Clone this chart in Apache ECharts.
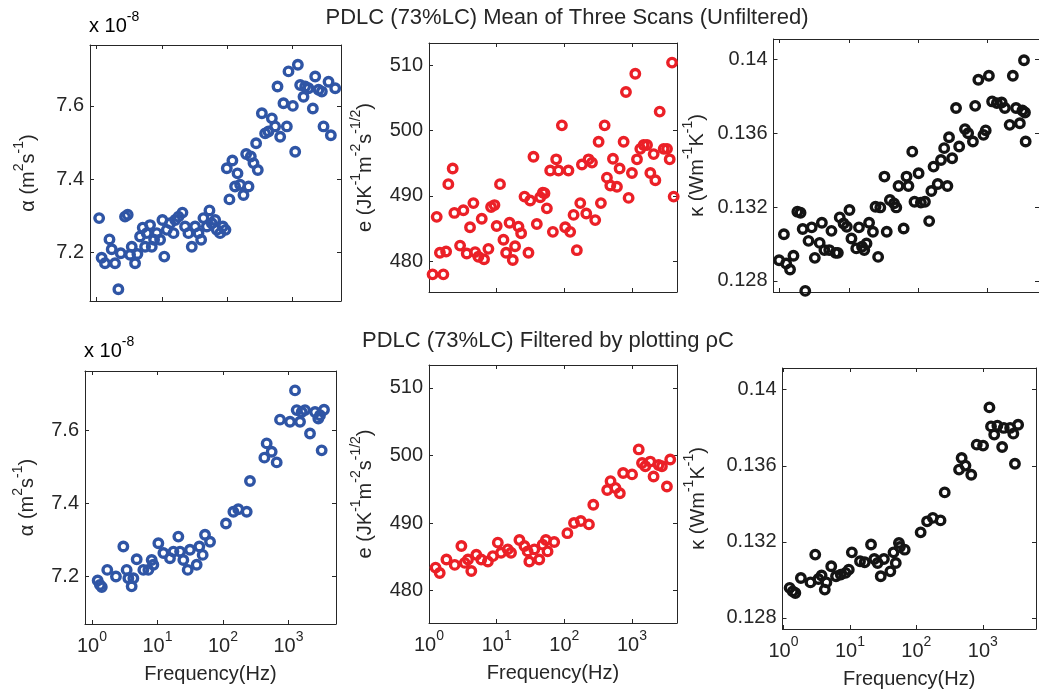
<!DOCTYPE html>
<html>
<head>
<meta charset="utf-8">
<script src="https://cdn.jsdelivr.net/npm/echarts@6/dist/echarts.min.js"></script>
<style>
  html, body { margin: 0; background: #fff; }
  #chart { width: 1039px; height: 696px; }
</style>
</head>
<body>
<div id="chart"></div>
<script>
// ---- unfiltered (mean of three scans) ----
const freqAlphaRaw = [1.09,1.19,1.34,1.57,1.70,1.91,2.15,2.34,2.72,2.99, 3.25,3.45,3.88,4.21,4.63,5.09,5.53,5.86,6.59,7.0, 7.6,8.35,9.4,10.2,10.9,11.9,13.4,15.1,16.0,18.0, 20.7,22.7,25.6,28.8,32.4,36.5,40.1,43.5,49.0,53.8, 58.4,65.8,69.7,78.5,86.2,94.7,99.3,109,121,133, 145,159,179,197,214,232,255,280,297,343, 385,433,488,548,596,655,736,829,879,1025, 1114,1224,1328,1495,1585,1784,2079,2259,2541,2858, 3033,3620,3928,4582];
const alphaRaw = [7.294,7.186,7.171,7.236,7.209,7.171,7.100,7.198,7.298,7.303, 7.194,7.216,7.171,7.196,7.244,7.268,7.216,7.253,7.275,7.216, 7.235,7.253,7.235,7.289,7.189,7.262,7.280,7.253,7.289,7.298, 7.309,7.271,7.253,7.216,7.271,7.253,7.235,7.294,7.271,7.315, 7.280,7.289,7.262,7.253,7.271,7.262,7.430,7.345,7.451,7.380, 7.416,7.385,7.357,7.469,7.380,7.462,7.444,7.498,7.425,7.580, 7.525,7.530,7.566,7.544,7.653,7.516,7.607,7.544,7.694,7.600, 7.475,7.712,7.657,7.625,7.653,7.648,7.593,7.680,7.644,7.639, 7.544,7.666,7.520,7.648];

const freqEffRaw = [1.13,1.30,1.45,1.63,1.79,1.93,2.24,2.37,2.88,3.22, 3.61,4.04,4.53,4.80,5.37,6.02,6.51,7.55,8.27,9.27, 10.0,11.2,12.6,13.8,15.5,17.3,18.7,21.0,23.0,25.8, 29.5,31.3,35.0,39.2,44.0,48.1,50.9,55.2,61.8,67.7, 75.8,82.1,92.0,103,115,122,137,153,172,182, 211,228,256,286,321,347,394,426,478,523, 599,656,752,814,891,998,1119,1185,1327,1486, 1667,1866,2090,2213,2566,2939,3291,3606,3906,4131];
const effRaw = [478.0,486.8,481.3,478.0,481.5,491.8,494.2,487.4,482.4,487.8, 481.2,485.2,488.9,481.4,480.7,486.5,480.3,481.9,488.3,488.6, 485.4,491.8,483.3,481.3,485.9,480.2,482.3,485.3,484.3,489.9, 481.3,489.3,496.0,485.7,489.8,490.5,490.4,488.1,493.9,484.5, 495.6,493.9,500.8,485.2,493.9,484.5,487.1,481.7,488.9,494.8, 487.3,495.6,495.1,486.3,498.3,488.9,500.8,492.8,491.6,495.7, 491.4,494.2,498.3,505.9,489.7,493.5,508.7,495.6,497.2,497.8, 497.8,493.5,496.4,492.4,502.9,497.2,497.2,495.6,510.4,489.9];

const freqKappaRaw = [0.98,1.15,1.24,1.41,1.58,1.80,2.00,2.15,2.34,2.61, 2.90,3.22,3.78,4.07,4.43,5.20,5.60,6.43,6.93,7.38, 8.39,9.33,10.2,10.9,12.8,14.0,15.5,16.7,18.0,19.6, 22.3,24.3,26.5,28.5,32.7,35.3,39.2,45.0,48.5,52.3, 62.0,68.2,72.7,82.6,89.0,102,110,126,145,156, 168,193,215,239,266,281,312,355,394,478, 531,623,671,746,885,953,1060,1180,1384,1622, 1803,2118,2354,2618,2974,3236,3412,3524,3606];
const kappaRaw = [0.12912,0.13053,0.12894,0.12862,0.12936,0.13175,0.13169,0.13081,0.12746,0.13017, 0.13090,0.12925,0.13006,0.13115,0.12967,0.12967,0.13071,0.12952,0.12952,0.13144, 0.13111,0.13093,0.13184,0.13030,0.12976,0.13090,0.12985,0.12967,0.13003,0.13115, 0.13066,0.13202,0.12930,0.13198,0.13365,0.13066,0.13238,0.13220,0.13198,0.13314, 0.13084,0.13365,0.13314,0.13500,0.13229,0.13383,0.13224,0.13229,0.13124,0.13287, 0.13419,0.13325,0.13455,0.13519,0.13314,0.13578,0.13464,0.13736,0.13528,0.13622, 0.13600,0.13555,0.13748,0.13889,0.13591,0.13615,0.13911,0.13772,0.13763,0.13766, 0.13736,0.13645,0.13911,0.13736,0.13654,0.13723,0.13995,0.13712,0.13555];

// ---- filtered by plotting rho*C ----
const freqAlphaFilt = [1.22,1.32,1.41,1.71,2.32,3.01,3.38,3.59,4.03,4.28, 4.81,6.08,7.25,8.15,8.64,10.3,12.3,15.5,17.5,20.8, 22.1,24.8,28.9,31.3,39.6,43.5,48.9,53.1,63.4,111, 144,171,230,258,428,464,553,660,742,1054, 1257,1333,1499,1589,1786,2129,2540,2852,3027,3207, 3483];
const alphaFilt = [7.189,7.177,7.171,7.218,7.200,7.282,7.218,7.195,7.173,7.195, 7.247,7.218,7.218,7.245,7.232,7.291,7.264,7.250,7.268,7.309, 7.268,7.245,7.218,7.273,7.232,7.282,7.259,7.314,7.295,7.345, 7.377,7.384,7.377,7.461,7.525,7.564,7.541,7.512,7.629,7.623, 7.709,7.655,7.623,7.650,7.655,7.591,7.650,7.632,7.641,7.545, 7.656];

const freqEffFilt = [1.25,1.44,1.81,2.40,3.01,3.37,3.77,4.22,5.00,5.92, 7.42,8.78,10.4,11.6,14.6,16.3,21.7,25.7,28.7,30.4, 36.0,42.6,47.7,53.4,56.5,70.8,111,139,175,231, 268,430,482,570,661,740,1002,1257,1406,1574, 1862,2084,2472,2768,3281,3673];
const effFilt = [483.4,482.6,484.6,483.8,486.6,484.1,484.6,482.9,485.3,484.6, 484.3,485.1,487.1,485.6,486.1,485.6,487.5,486.6,485.8,484.3, 486.1,484.6,486.8,487.5,485.8,487.2,488.5,490.0,490.3,489.8, 492.7,494.9,496.2,495.2,494.4,497.4,497.2,500.9,498.9,498.4, 499.1,496.9,498.6,498.4,495.4,499.4];

const freqKappaFilt = [1.24,1.38,1.51,1.83,2.55,3.01,3.36,3.75,4.19,4.43, 5.24,6.18,7.29,8.61,9.62,10.7,14.2,16.7,20.8,23.3, 26.1,29.1,32.5,40.6,45.3,49.0,54.7,56.5,66.8,116, 145,177,231,267,439,480,548,670,809,1009, 1257,1328,1484,1656,1954,2065,2576,2878,3042,3396];
const kappaFilt = [0.12958,0.12940,0.12931,0.13010,0.12987,0.13133,0.13005,0.13023,0.12949,0.12987, 0.13072,0.13019,0.13028,0.13037,0.13054,0.13145,0.13098,0.13093,0.13186,0.13110, 0.13089,0.13019,0.13110,0.13045,0.13145,0.13089,0.13194,0.13173,0.13159,0.13250, 0.13308,0.13326,0.13313,0.13460,0.13580,0.13641,0.13601,0.13553,0.13711,0.13706, 0.13907,0.13807,0.13764,0.13811,0.13699,0.13799,0.13799,0.13769,0.13611,0.13816];

// tick labels
const alphaTicks = [7.2, 7.4, 7.6];
const effTicks = [480, 490, 500, 510];
const kappaTicks = [0.128, 0.132, 0.136, 0.14];
const freqTickExps = [0, 1, 2, 3];

const FONT = '"Liberation Sans", Arial, Helvetica, sans-serif';
const INK = '#262626';
const BLUE = '#2f55a5';
const RED = '#eb2027';
const BLACK = '#141414';

const rich = {
    b: { fontSize: 20, fontFamily: FONT, color: INK },
    s: { fontSize: 14, fontFamily: FONT, color: INK, padding: [0, 0, 18, 0] }
};

const alphaName = '{b|\u03b1 (m}{s|2}{b|s}{s|-1}{b|)}';
const effName = '{b|e (JK}{s|-1}{b|m}{s|-2}{b|s}{s|-1/2}{b|)}';
const kappaName = '{b|\u03ba (Wm}{s|-1}{b|K}{s|-1}{b|)}';

// box = [left, top, width, height]; xr = log10 limits
const panels = [
    { box: [90, 45, 251, 256], xr: [-0.103, 3.75], yr: [7.068, 7.766], ticks: alphaTicks, f: freqAlphaRaw, v: alphaRaw, color: BLUE, name: alphaName, gap: 46, xlab: false },
    { box: [429, 43, 248, 249], xr: [0, 3.665], yr: [475.3, 513.4], ticks: effTicks, f: freqEffRaw, v: effRaw, color: RED, name: effName, gap: 48, xlab: false },
    { box: [773.5, 39, 277, 253], xr: [-0.09, 3.75], yr: [0.1274, 0.1411], ticks: kappaTicks, f: freqKappaRaw, v: kappaRaw, color: BLACK, name: kappaName, gap: 60, xlab: false },
    { box: [85, 371, 251, 253], xr: [-0.107, 3.725], yr: [7.07, 7.762], ticks: alphaTicks, f: freqAlphaFilt, v: alphaFilt, color: BLUE, name: alphaName, gap: 42, xlab: true },
    { box: [429, 365, 248, 258], xr: [0, 3.665], yr: [475.2, 513.4], ticks: effTicks, f: freqEffFilt, v: effFilt, color: RED, name: effName, gap: 48, xlab: true },
    { box: [782.5, 368, 264, 261], xr: [-0.014, 3.8], yr: [0.12742, 0.14114], ticks: kappaTicks, f: freqKappaFilt, v: kappaFilt, color: BLACK, name: kappaName, gap: 68, xlab: true }
];

const isPow10 = v => Math.abs(Math.log10(v) - Math.round(Math.log10(v))) < 1e-6;

const grid = [], xAxis = [], yAxis = [], series = [];

panels.forEach((p, i) => {
    grid.push({ left: p.box[0], top: p.box[1], width: p.box[2], height: p.box[3], containLabel: false });

    const step = p.ticks[1] - p.ticks[0];
    const line = { show: true, onZero: false, lineStyle: { color: INK, width: 1 } };
    const tick = { show: true, inside: true, length: 4, lineStyle: { color: INK, width: 1 } };

    const xBase = {
        type: 'log', logBase: 10, gridIndex: i,
        min: Math.pow(10, p.xr[0]), max: Math.pow(10, p.xr[1]),
        axisLine: line, axisTick: tick, splitLine: { show: false }
    };
    xAxis.push(Object.assign({}, xBase, {
        position: 'bottom',
        axisLabel: {
            show: p.xlab, margin: 6, rich: rich,
            formatter: v => {
                if (!isPow10(v)) return '';
                const e = Math.round(Math.log10(v));
                return freqTickExps.includes(e) ? '{b|10}{s|' + e + '}' : '';
            }
        },
        name: p.xlab ? 'Frequency(Hz)' : '',
        nameLocation: 'middle', nameGap: 40,
        nameTextStyle: { fontSize: 20, fontFamily: FONT, color: INK }
    }));
    xAxis.push(Object.assign({}, xBase, { position: 'top', axisLabel: { show: false } }));

    const yBase = {
        type: 'value', gridIndex: i,
        min: p.yr[0], max: p.yr[1], minInterval: step, maxInterval: step,
        axisLine: line, axisTick: tick, splitLine: { show: false }
    };
    yAxis.push(Object.assign({}, yBase, {
        position: 'left',
        axisLabel: {
            margin: 6, fontSize: 20, fontFamily: FONT, color: INK,
            formatter: v => p.ticks.some(t => Math.abs(t - v) < step * 1e-4) ? String(+v.toPrecision(6)) : ''
        },
        name: p.name, nameLocation: 'middle', nameRotate: 90, nameGap: p.gap,
        nameTextStyle: { rich: rich }
    }));
    yAxis.push(Object.assign({}, yBase, { position: 'right', axisLabel: { show: false } }));

    series.push({
        type: 'scatter',
        xAxisIndex: 2 * i, yAxisIndex: 2 * i,
        data: p.f.map((f, k) => [f, p.v[k]]),
        symbol: 'circle', symbolSize: 8.5,
        clip: false, silent: true,
        itemStyle: { color: 'rgba(0,0,0,0)', borderColor: p.color, borderWidth: 3.4, opacity: 1 }
    });
});

const chart = echarts.init(document.getElementById('chart'), null, { renderer: 'canvas' });
chart.setOption({
    animation: false,
    backgroundColor: '#fff',
    grid, xAxis, yAxis, series,
    graphic: [
        { type: 'text', x: 567, y: 18, style: { text: 'PDLC (73%LC) Mean of Three Scans (Unfiltered)', font: '22px ' + FONT, fill: INK, align: 'center', verticalAlign: 'middle' } },
        { type: 'text', x: 548, y: 341, style: { text: 'PDLC (73%LC) Filtered by plotting \u03c1C', font: '22px ' + FONT, fill: INK, align: 'center', verticalAlign: 'middle' } },
        { type: 'text', x: 89, y: 42, style: { text: '{b|x 10}{s|-8}', rich: rich, align: 'left', verticalAlign: 'bottom' } },
        { type: 'text', x: 84, y: 367, style: { text: '{b|x 10}{s|-8}', rich: rich, align: 'left', verticalAlign: 'bottom' } }
    ]
});

window.addEventListener('resize', () => chart.resize());
</script>
</body>
</html>
